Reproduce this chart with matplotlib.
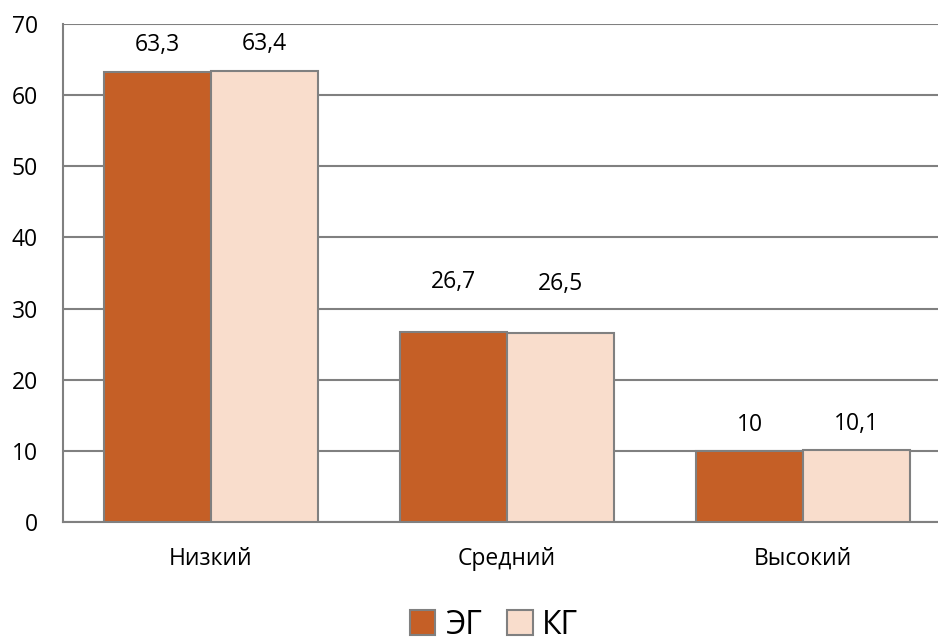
import numpy as np
import matplotlib
matplotlib.use("Agg")
import matplotlib.pyplot as plt

categories = ["Низкий", "Средний", "Высокий"]
eg_values = [63.3, 26.7, 10]
kg_values = [63.4, 26.5, 10.1]
eg_labels = ["63,3", "26,7", "10"]
kg_labels = ["63,4", "26,5", "10,1"]

plt.rcParams['font.family'] = ['Open Sans', 'DejaVu Sans']

fig = plt.figure(figsize=(9.38, 6.4), dpi=100)
ax = fig.add_axes([63 / 938, 118 / 640, 888 / 938, 498 / 640])

x = np.arange(len(categories))
w = 0.36
edge = "#808080"
b1 = ax.bar(x - w / 2, eg_values, w, color="#C55F26", edgecolor=edge, linewidth=1.5, label="ЭГ", zorder=3)
b2 = ax.bar(x + w / 2, kg_values, w, color="#F9DDCC", edgecolor=edge, linewidth=1.5, label="КГ", zorder=3)

# value labels sit a bit higher over the middle group
label_pad = [3.8, 7.0, 3.7]
for bars, labels in ((b1, eg_labels), (b2, kg_labels)):
    for i, (rect, lab) in enumerate(zip(bars, labels)):
        ax.text(rect.get_x() + rect.get_width() / 2, rect.get_height() + label_pad[i], lab,
                ha="center", va="center", fontsize=16.5)

ax.set_xlim(-0.5, 2.5)
ax.set_ylim(0, 70)
ax.set_yticks(range(0, 71, 10))
ax.set_xticks(x)
ax.set_xticklabels(categories)
ax.tick_params(axis="both", length=0, labelsize=16.5)
ax.tick_params(axis="x", pad=18)
ax.tick_params(axis="y", pad=18)
ax.yaxis.grid(True, color=edge, linewidth=1.5, zorder=0)
ax.set_axisbelow(True)
for s in ("top", "right"):
    ax.spines[s].set_visible(False)
for s in ("left", "bottom"):
    ax.spines[s].set_color(edge)
    ax.spines[s].set_linewidth(1.5)

fig.legend(handles=[b1, b2], loc="center", bbox_to_anchor=(494 / 938, 15 / 640), ncol=2,
           frameon=False, fontsize=23, handlelength=0.8, handleheight=0.8,
           handletextpad=0.3, columnspacing=0.8)

fig.savefig("out.png", dpi=100)
